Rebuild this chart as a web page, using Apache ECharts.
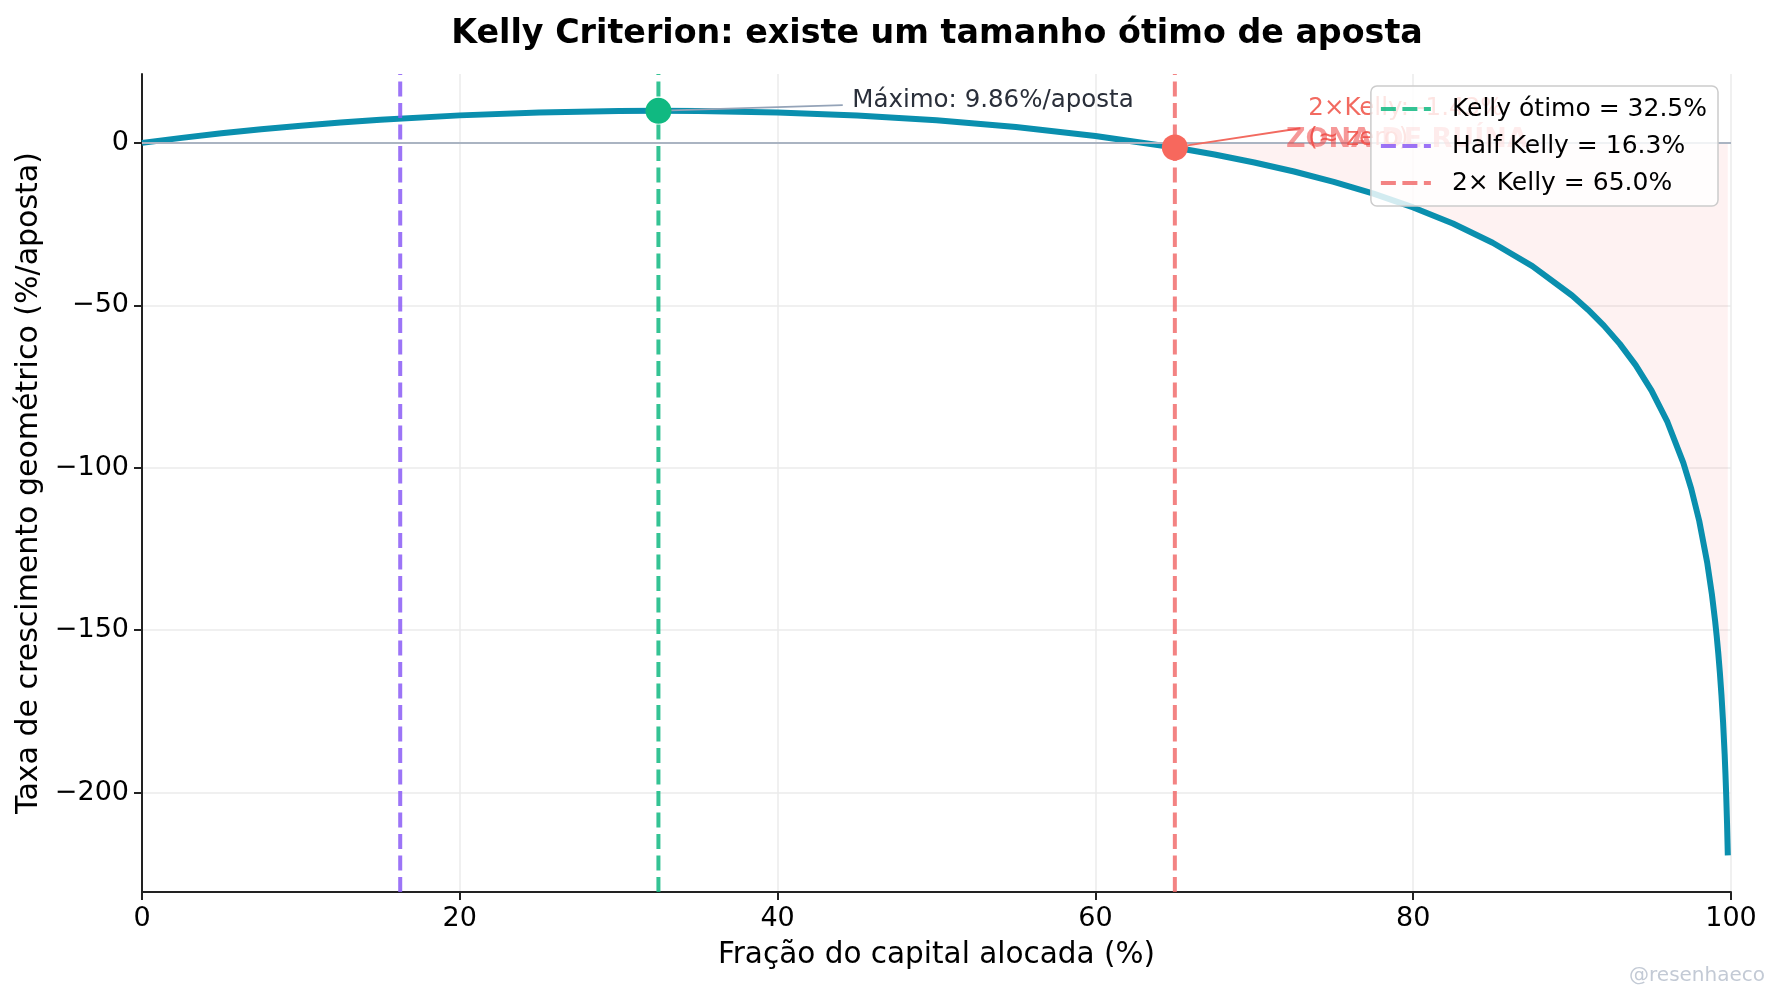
<!DOCTYPE html>
<html><head><meta charset="utf-8">
<script src="https://cdn.jsdelivr.net/npm/echarts@6/dist/echarts.min.js"></script>
<style>html,body{margin:0;padding:0;background:#fff}#c{width:1782px;height:1007px}</style>
</head><body><div id="c"></div>
<script>
// Fraction of capital allocated (%) and geometric growth rate (%/bet)
const fractionPct = [0, 2.5, 5, 7.5, 10, 12.5, 15, 20, 25, 30, 32.5, 35, 40, 45, 50, 55, 60, 65, 67.5, 70, 72.5, 75, 77.5, 80, 82.5, 85, 87.5, 90, 91, 92, 93, 94, 95, 96, 97, 97.5, 98, 98.5, 98.8, 99, 99.1, 99.2, 99.3, 99.4, 99.5, 99.6, 99.65, 99.7, 99.75, 99.8];
const growthPct = [0, 1.544, 2.934, 4.179, 5.287, 6.264, 7.117, 8.465, 9.355, 9.800, 9.856, 9.800, 9.341, 8.399, 6.931, 4.874, 2.132, -1.432, -3.584, -6.028, -8.809, -11.987, -15.639, -19.872, -24.833, -30.741, -37.937, -46.987, -51.337, -56.249, -61.872, -68.425, -76.249, -85.913, -98.482, -106.5, -116.356, -129.116, -139.046, -147.177, -151.882, -157.145, -163.117, -170.017, -178.184, -188.189, -194.18, -201.098, -209.284, -219.307];

const kellyOptimal = 32.5, kellyMaxGrowth = 9.856;
const halfKelly = 16.25;
const doubleKelly = 65.0, doubleKellyGrowth = -1.432;
const ruinStart = 65;

const legendNames = ['Kelly ótimo = 32.5%', 'Half Kelly = 16.3%', '2× Kelly = 65.0%'];
const yTickValues = [-200, -150, -100, -50, 0];
const xTickValues = [0, 20, 40, 60, 80, 100];
const Y_MIN = -230.6, Y_MAX = 21.2;

const FONT = 'DejaVu Sans';
const curve = fractionPct.map((x, i) => [x, growthPct[i]]);
const ruinZone = curve.filter(p => p[0] >= ruinStart);
const dashIcon = 'path://M0,0h15v4h-15z M21.5,0h15v4h-15z M43,0h7v4h-7z';
const DASH = [15, 6.5];

const chart = echarts.init(document.getElementById('c'), null, {renderer: 'canvas'});
const minus = v => (v < 0 ? '\u2212' + Math.abs(v) : String(v));

chart.setOption({
  backgroundColor: '#ffffff',
  animation: false,
  title: {
    text: 'Kelly Criterion: existe um tamanho ótimo de aposta',
    left: 932, textAlign: 'center', top: 13,
    textStyle: {fontFamily: FONT, fontSize: 33.3, fontWeight: 'bold', color: '#000'}
  },
  grid: {left: 142, right: 51, top: 74, bottom: 115, containLabel: false},
  legend: {
    data: legendNames.map(n => ({name: n, icon: dashIcon})),
    orient: 'vertical', right: 64, top: 86, z: 10,
    itemWidth: 50, itemHeight: 4, itemGap: 11,
    padding: [10, 11, 10, 10],
    backgroundColor: 'rgba(255,255,255,0.82)',
    borderColor: '#cccccc', borderWidth: 1.5, borderRadius: 6,
    textStyle: {fontFamily: FONT, fontSize: 25, color: '#000', padding: [0, 0, 0, 16], lineHeight: 26}
  },
  xAxis: {
    type: 'value', min: 0, max: 100, interval: 20,
    name: 'Fração do capital alocada (%)', nameLocation: 'middle', nameGap: 48,
    nameTextStyle: {fontFamily: FONT, fontSize: 29.5, color: '#000'},
    axisLine: {show: true, onZero: false, lineStyle: {color: '#222', width: 2}},
    axisTick: {show: true, length: 8, lineStyle: {color: '#222', width: 2}},
    axisLabel: {fontFamily: FONT, fontSize: 27, color: '#000', margin: 13,
      customValues: xTickValues},
    splitLine: {show: true, lineStyle: {color: '#ebebeb', width: 1.5}}
  },
  yAxis: {
    type: 'value', min: Y_MIN, max: Y_MAX,
    name: 'Taxa de crescimento geométrico (%/aposta)', nameLocation: 'middle', nameGap: 98,
    nameTextStyle: {fontFamily: FONT, fontSize: 30, color: '#000'},
    axisLine: {show: true, onZero: false, lineStyle: {color: '#222', width: 2}},
    axisTick: {show: true, length: 8, lineStyle: {color: '#222', width: 2}, customValues: yTickValues},
    axisLabel: {fontFamily: FONT, fontSize: 27, color: '#000', margin: 13,
      customValues: yTickValues, formatter: minus},
    splitLine: {show: true, lineStyle: {color: '#ebebeb', width: 1.5}}
  },
  graphic: [{
    type: 'text', right: 17, top: 966,
    style: {text: '@resenhaeco', fill: '#c3cad5', font: '20px "DejaVu Sans"'}
  }],
  series: [
    {
      name: 'ruinZone', type: 'line', data: ruinZone, showSymbol: false, symbol: 'none',
      lineStyle: {width: 0, opacity: 0},
      areaStyle: {color: 'rgba(239,68,68,0.10)', origin: 'auto'},
      z: 1, silent: true,
      markLine: {
        silent: true, symbol: ['none', 'none'],
        lineStyle: {color: '#aab4c2', width: 2, type: 'solid'},
        label: {show: false},
        data: [{yAxis: 0}]
      }
    },
    {
      name: 'curve', type: 'line', data: curve, symbol: 'none', z: 3,
      lineStyle: {color: '#0a8fae', width: 6, join: 'round'},
      markLine: {
        silent: true, symbol: ['none', 'arrow'], symbolSize: [0, 10],
        label: {show: false},
        data: [
          [{coord: [44.1, 11.6], lineStyle: {color: '#94a3b8', width: 1.8, type: 'solid'}},
           {coord: [33.3, 9.98]}],
          [{coord: [72.9, 4.5], lineStyle: {color: '#f26a60', width: 1.8, type: 'solid'}},
           {coord: [65.8, -0.8]}]
        ]
      },
      markPoint: {
        silent: true, symbol: 'circle', symbolSize: 0,
        data: [
          {coord: [44.7, 13.1], label: {show: true, position: [0, 0], align: 'left', verticalAlign: 'middle',
            formatter: 'Máximo: 9.86%/aposta', fontFamily: FONT, fontSize: 24.5, color: '#2a2f3a'}},
          {coord: [73.4, 5.9], label: {show: true, position: [0, 0], align: 'left', verticalAlign: 'middle',
            formatter: '2×Kelly: -1.43%\n(≈ zero)', lineHeight: 30, fontFamily: FONT, fontSize: 24.5, color: '#f26a60'}},
          {coord: [79.6, 0.8], label: {show: true, position: [0, 0], align: 'center', verticalAlign: 'middle',
            formatter: 'ZONA DE RUÍNA', fontFamily: FONT, fontSize: 27, fontWeight: 'bold', color: 'rgba(239,68,68,0.55)'}}
        ]
      }
    },
    {
      name: legendNames[0], type: 'line', data: [[kellyOptimal, Y_MIN], [kellyOptimal, Y_MAX]],
      symbol: 'none', z: 4, color: 'rgba(16,185,129,0.85)',
      lineStyle: {color: 'rgba(16,185,129,0.85)', width: 4, type: DASH}
    },
    {
      name: legendNames[1], type: 'line', data: [[halfKelly, Y_MIN], [halfKelly, Y_MAX]],
      symbol: 'none', z: 4, color: 'rgba(139,92,246,0.85)',
      lineStyle: {color: 'rgba(139,92,246,0.85)', width: 4, type: DASH}
    },
    {
      name: legendNames[2], type: 'line', data: [[doubleKelly, Y_MIN], [doubleKelly, Y_MAX]],
      symbol: 'none', z: 4, color: 'rgba(240,100,100,0.8)',
      lineStyle: {color: 'rgba(240,100,100,0.8)', width: 4, type: DASH}
    },
    {
      name: 'kellyPoint', type: 'scatter', data: [[kellyOptimal, kellyMaxGrowth]],
      symbolSize: 26, z: 5, itemStyle: {color: '#10b981', opacity: 1}
    },
    {
      name: 'doublePoint', type: 'scatter', data: [[doubleKelly, doubleKellyGrowth]],
      symbolSize: 26, z: 5, itemStyle: {color: '#f7685d', opacity: 1}
    }
  ]
});
</script>
</body></html>
